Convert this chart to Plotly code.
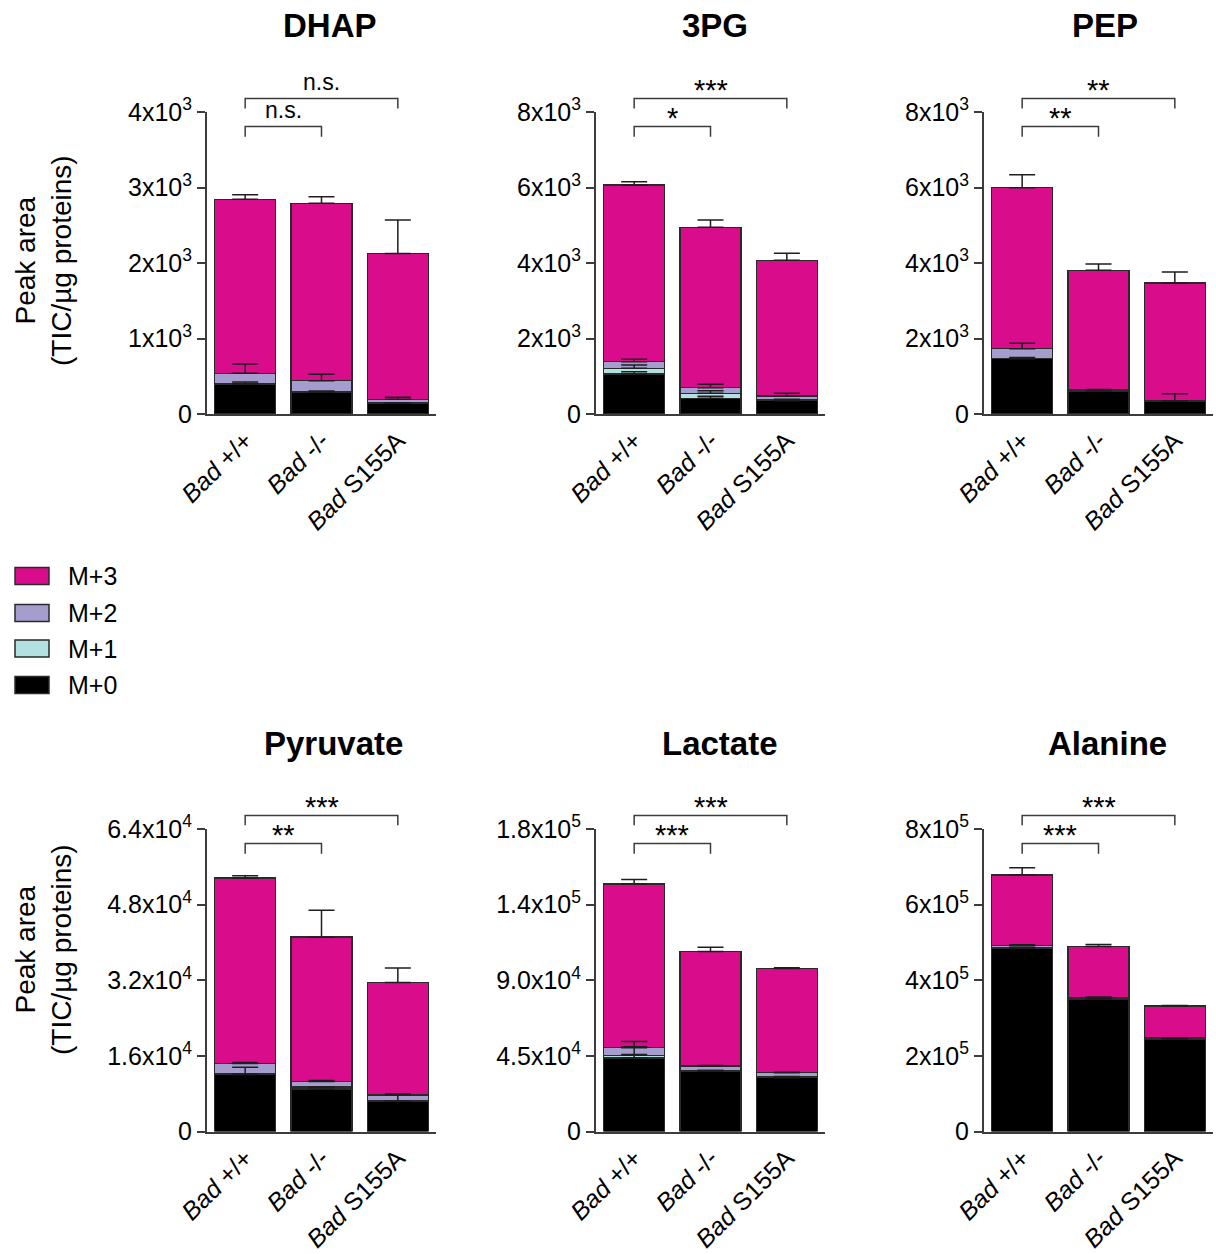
import plotly.graph_objects as go

# ---- data -----------------------------------------------------------------
groups = ["Bad +/+", "Bad -/-", "Bad S155A"]
group_ticktext = ["<i>Bad</i> +/+", "<i>Bad</i> -/-", "<i>Bad</i> S155A"]

isotopologues = ["M+0", "M+1", "M+2", "M+3"]
iso_colors = ["#000000", "#b3e0e0", "#a59dcd", "#d90d8b"]

metabolites = ["DHAP", "3PG", "PEP", "Pyruvate", "Lactate", "Alanine"]

# mean peak area (TIC/µg proteins); rows = M+0..M+3, columns = groups
dhap_mean = [[397, 287, 142], [8, 8, 5], [134, 146, 48], [2305, 2349, 1930]]
dhap_sem = [[27, 18, 8], [0, 0, 0], [123, 85, 26], [60, 88, 445]]

pg3_mean = [[1060, 415, 353], [150, 133, 30], [176, 150, 94], [4680, 4247, 3594]]
pg3_sem = [[60, 53, 20], [88, 69, 10], [62, 88, 71], [88, 194, 185]]

pep_mean = [[1466, 600, 336], [5, 5, 3], [260, 31, 5], [4265, 3170, 3126]]
pep_sem = [[30, 20, 200], [0, 0, 0], [141, 10, 0], [344, 168, 292]]

pyruvate_mean = [[12050, 8960, 6490], [150, 430, 40], [2180, 1180, 1230], [39260, 30530, 23740]]
pyruvate_sem = [[1550, 400, 1300], [0, 0, 0], [210, 200, 150], [480, 5700, 3100]]

lactate_mean = [[43700, 35800, 32000], [1600, 500, 500], [4600, 2600, 2500], [97500, 68200, 62000]]
lactate_sem = [[6800, 500, 700], [500, 0, 0], [3700, 300, 300], [2600, 2600, 400]]

alanine_mean = [[484000, 349700, 244000], [1000, 1000, 500], [7000, 4300, 2500], [187000, 134300, 85000]]
alanine_sem = [[3000, 2000, 2000], [0, 0, 0], [2000, 1000, 500], [18500, 5300, 1500]]

means = [dhap_mean, pg3_mean, pep_mean, pyruvate_mean, lactate_mean, alanine_mean]
sems = [dhap_sem, pg3_sem, pep_sem, pyruvate_sem, lactate_sem, alanine_sem]

# y-axis ticks per panel
dhap_ticks = [0, 1000, 2000, 3000, 4000]
dhap_ticktext = ["0", "1x10<sup>3</sup>", "2x10<sup>3</sup>", "3x10<sup>3</sup>", "4x10<sup>3</sup>"]
pg3_ticks = [0, 2000, 4000, 6000, 8000]
pg3_ticktext = ["0", "2x10<sup>3</sup>", "4x10<sup>3</sup>", "6x10<sup>3</sup>", "8x10<sup>3</sup>"]
pep_ticks = pg3_ticks
pep_ticktext = pg3_ticktext
pyruvate_ticks = [0, 16000, 32000, 48000, 64000]
pyruvate_ticktext = ["0", "1.6x10<sup>4</sup>", "3.2x10<sup>4</sup>", "4.8x10<sup>4</sup>", "6.4x10<sup>4</sup>"]
lactate_ticks = [0, 45000, 90000, 135000, 180000]
lactate_ticktext = ["0", "4.5x10<sup>4</sup>", "9.0x10<sup>4</sup>", "1.4x10<sup>5</sup>", "1.8x10<sup>5</sup>"]
alanine_ticks = [0, 200000, 400000, 600000, 800000]
alanine_ticktext = ["0", "2x10<sup>5</sup>", "4x10<sup>5</sup>", "6x10<sup>5</sup>", "8x10<sup>5</sup>"]

tickvals = [dhap_ticks, pg3_ticks, pep_ticks, pyruvate_ticks, lactate_ticks, alanine_ticks]
ticktexts = [dhap_ticktext, pg3_ticktext, pep_ticktext, pyruvate_ticktext, lactate_ticktext, alanine_ticktext]

# significance vs Bad +/+ : (Bad -/-, Bad S155A)
sig_knockout = ["n.s.", "*", "**", "**", "***", "***"]
sig_s155a = ["n.s.", "***", "**", "***", "***", "***"]

# ---- layout helpers ---------------------------------------------------------
W, H = 1216, 1254
FONT = "Liberation Sans, Arial, sans-serif"
AXIS_COLOR = "#3c3c3c"

col_px = [(207, 436), (596, 825), (984, 1213)]
row_px = [(112, 414), (829, 1131.5)]
title_px = [(330, 25), (715, 25), (1105, 25), (333, 743), (720, 743), (1107, 743)]
ytitle_px = [(43, 261), (43, 950)]


def px_x(v):
    return v / W


def px_y(v):
    return 1 - v / H


fig = go.Figure()
layout_axes = {}
shapes = []
annotations = []

for i, name in enumerate(metabolites):
    r, c = divmod(i, 3)
    n = i + 1
    xa = "x" if n == 1 else f"x{n}"
    ya = "y" if n == 1 else f"y{n}"
    mean, sem = means[i], sems[i]

    # stacked isotopologue bars
    for k, iso in enumerate(isotopologues):
        fig.add_trace(go.Bar(
            x=groups, y=mean[k], name=iso, xaxis=xa, yaxis=ya,
            marker=dict(color=iso_colors[k], line=dict(color="#2a2a2a", width=1.5)),
            showlegend=False, hoverinfo="skip",
        ))

    # upward error bars drawn on top of every segment
    running = [0, 0, 0]
    for k, iso in enumerate(isotopologues):
        running = [running[j] + mean[k][j] for j in range(3)]
        fig.add_trace(go.Scatter(
            x=groups, y=list(running), xaxis=xa, yaxis=ya, mode="markers",
            marker=dict(size=1, color="rgba(0,0,0,0)"),
            error_y=dict(type="data", array=sem[k], arrayminus=[0, 0, 0], symmetric=False,
                         color="#1e1e1e", thickness=1.5, width=13),
            showlegend=False, hoverinfo="skip",
        ))

    x0, x1 = col_px[c]
    y0, y1 = row_px[r]
    layout_axes["xaxis" if n == 1 else f"xaxis{n}"] = dict(
        domain=[px_x(x0), px_x(x1)], anchor=ya, type="category",
        categoryorder="array", categoryarray=groups, range=[-0.5, 2.5],
        tickvals=groups, ticktext=group_ticktext, tickangle=-45,
        showline=True, linecolor=AXIS_COLOR, linewidth=2, ticks="",
        showgrid=False, zeroline=False, automargin=False,
        tickfont=dict(family=FONT, size=25, color="black"),
    )
    layout_axes["yaxis" if n == 1 else f"yaxis{n}"] = dict(
        domain=[px_y(y1), px_y(y0)], anchor=xa,
        range=[0, tickvals[i][-1]], tickvals=tickvals[i], ticktext=ticktexts[i],
        showline=True, linecolor=AXIS_COLOR, linewidth=2,
        ticks="outside", ticklen=8, tickwidth=2, tickcolor=AXIS_COLOR,
        showgrid=False, zeroline=False, automargin=False,
        tickfont=dict(family=FONT, size=25, color="black"),
    )

    # significance brackets (x in category units, y relative to the axis domain)
    yd = f"{ya} domain"
    for (j, label, level, drop) in [(1, sig_knockout[i], 0.952, 0.918),
                                    (2, sig_s155a[i], 1.045, 1.012)]:
        shapes.append(dict(type="path", xref=xa, yref=yd,
                           path=f"M 0,{drop} L 0,{level} L {j},{level} L {j},{drop}",
                           line=dict(color=AXIS_COLOR, width=1.5)))
        is_star = label.startswith("*")
        annotations.append(dict(x=j / 2, y=level + 0.005, xref=xa, yref=yd,
                                text=label, showarrow=False, yanchor="bottom",
                                xanchor="center", yshift=-11 if is_star else 0,
                                font=dict(family=FONT, size=29 if is_star else 23,
                                          color="black")))

    # panel title
    tx, ty = title_px[i]
    annotations.append(dict(x=px_x(tx), y=px_y(ty), xref="paper", yref="paper",
                            text=f"<b>{name}</b>", showarrow=False,
                            xanchor="center", yanchor="middle",
                            font=dict(family=FONT, size=33, color="black")))

# y-axis titles for both rows
for (tx, ty) in ytitle_px:
    annotations.append(dict(x=px_x(tx), y=px_y(ty), xref="paper", yref="paper",
                            text="Peak area<br>(TIC/µg proteins)", textangle=-90,
                            showarrow=False, xanchor="center", yanchor="middle",
                            font=dict(family=FONT, size=28, color="black")))

# legend: isotopologues listed from M+3 at the top down to M+0
legend_rows_px = [685, 648.5, 613, 576]
for k, iso in enumerate(isotopologues):
    cy = legend_rows_px[k]
    shapes.append(dict(type="rect", xref="paper", yref="paper",
                       x0=px_x(15), x1=px_x(49), y0=px_y(cy + 8.5), y1=px_y(cy - 8.5),
                       fillcolor=iso_colors[k], line=dict(color="#2a2a2a", width=1.5)))
    annotations.append(dict(x=px_x(66), y=px_y(cy), xref="paper", yref="paper",
                            text=iso, showarrow=False, xanchor="left", yanchor="middle",
                            font=dict(family=FONT, size=25, color="black")))

fig.update_layout(
    template="none",
    width=W, height=H,
    margin=dict(l=0, r=0, t=0, b=0, autoexpand=False),
    paper_bgcolor="white", plot_bgcolor="white",
    barmode="stack", bargap=0.2,
    showlegend=False,
    shapes=shapes, annotations=annotations,
    **layout_axes,
)

fig.write_html("out.html")
